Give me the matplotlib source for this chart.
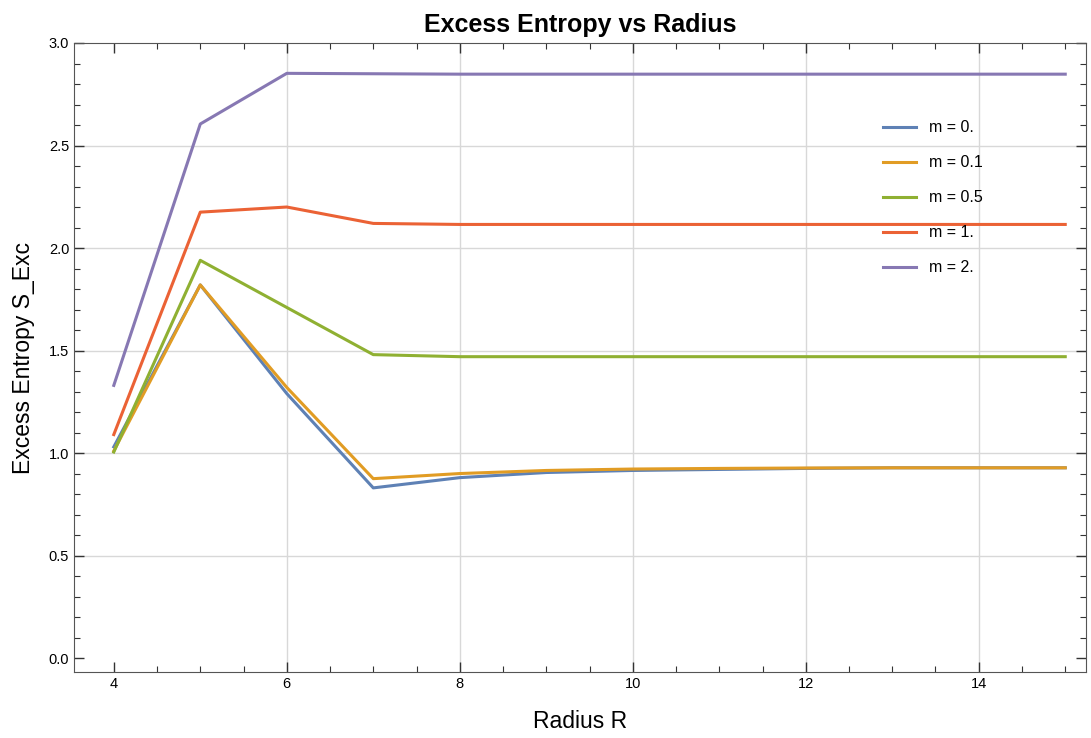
import matplotlib
matplotlib.use('Agg')
import matplotlib.pyplot as plt
from matplotlib.ticker import MultipleLocator, FormatStrFormatter

plt.rcParams['font.family'] = ['Liberation Sans', 'DejaVu Sans']

# Data
radius = [4, 5, 6, 7, 8, 9, 10, 11, 12, 13, 14, 15]
s_m0 = [1.03, 1.82, 1.29, 0.83, 0.88, 0.905, 0.915, 0.92, 0.925, 0.928, 0.928, 0.928]
s_m01 = [1.01, 1.82, 1.32, 0.875, 0.90, 0.915, 0.922, 0.925, 0.927, 0.928, 0.928, 0.928]
s_m05 = [1.005, 1.94, 1.71, 1.48, 1.47, 1.47, 1.47, 1.47, 1.47, 1.47, 1.47, 1.47]
s_m1 = [1.09, 2.175, 2.20, 2.12, 2.115, 2.115, 2.115, 2.115, 2.115, 2.115, 2.115, 2.115]
s_m2 = [1.33, 2.605, 2.852, 2.85, 2.848, 2.848, 2.848, 2.848, 2.848, 2.848, 2.848, 2.848]
labels = ['m = 0.', 'm = 0.1', 'm = 0.5', 'm = 1.', 'm = 2.']
colors = ['#5E81B5', '#E19C24', '#8FB032', '#EB6235', '#8778B3']
series = [s_m0, s_m01, s_m05, s_m1, s_m2]

fig = plt.figure(figsize=(10.91, 7.38), dpi=100)
ax = fig.add_axes([74/1091, 66/738, 1012/1091, 629/738])

# Grid lines (Mathematica style, not on the first tick)
for gx in [6, 8, 10, 12, 14]:
    ax.axvline(gx, color='#d8d8d8', lw=1, zorder=0)
for gy in [0.5, 1.0, 1.5, 2.0, 2.5]:
    ax.axhline(gy, color='#d8d8d8', lw=1, zorder=0)

for s, c, lab in zip(series, colors, labels):
    ax.plot(radius, s, color=c, lw=2.2, label=lab)

ax.set_xlim(3.54, 15.24)
ax.set_ylim(-0.068, 3.0)
ax.xaxis.set_major_locator(MultipleLocator(2))
ax.xaxis.set_minor_locator(MultipleLocator(0.5))
ax.yaxis.set_major_locator(MultipleLocator(0.5))
ax.yaxis.set_minor_locator(MultipleLocator(0.1))
ax.yaxis.set_major_formatter(FormatStrFormatter('%.1f'))
ax.tick_params(which='both', direction='in', top=True, right=True, labelsize=10.5, colors='#333333', labelcolor='black')
ax.tick_params(which='major', length=7, width=1)
ax.tick_params(which='minor', length=4, width=0.8)
for sp in ax.spines.values():
    sp.set_color('#555555')

ax.set_xlabel('Radius R', fontsize=16.5, labelpad=14)
ax.set_ylabel('Excess Entropy S_Exc', fontsize=16.5, labelpad=10)
ax.set_title('Excess Entropy vs Radius', fontsize=18, fontweight='bold', pad=8)

ax.legend(loc='upper left', bbox_to_anchor=(0.785, 0.9), frameon=False,
          fontsize=11.5, handlelength=2.1, labelspacing=1.25, handletextpad=0.8)

plt.savefig('out.png')
